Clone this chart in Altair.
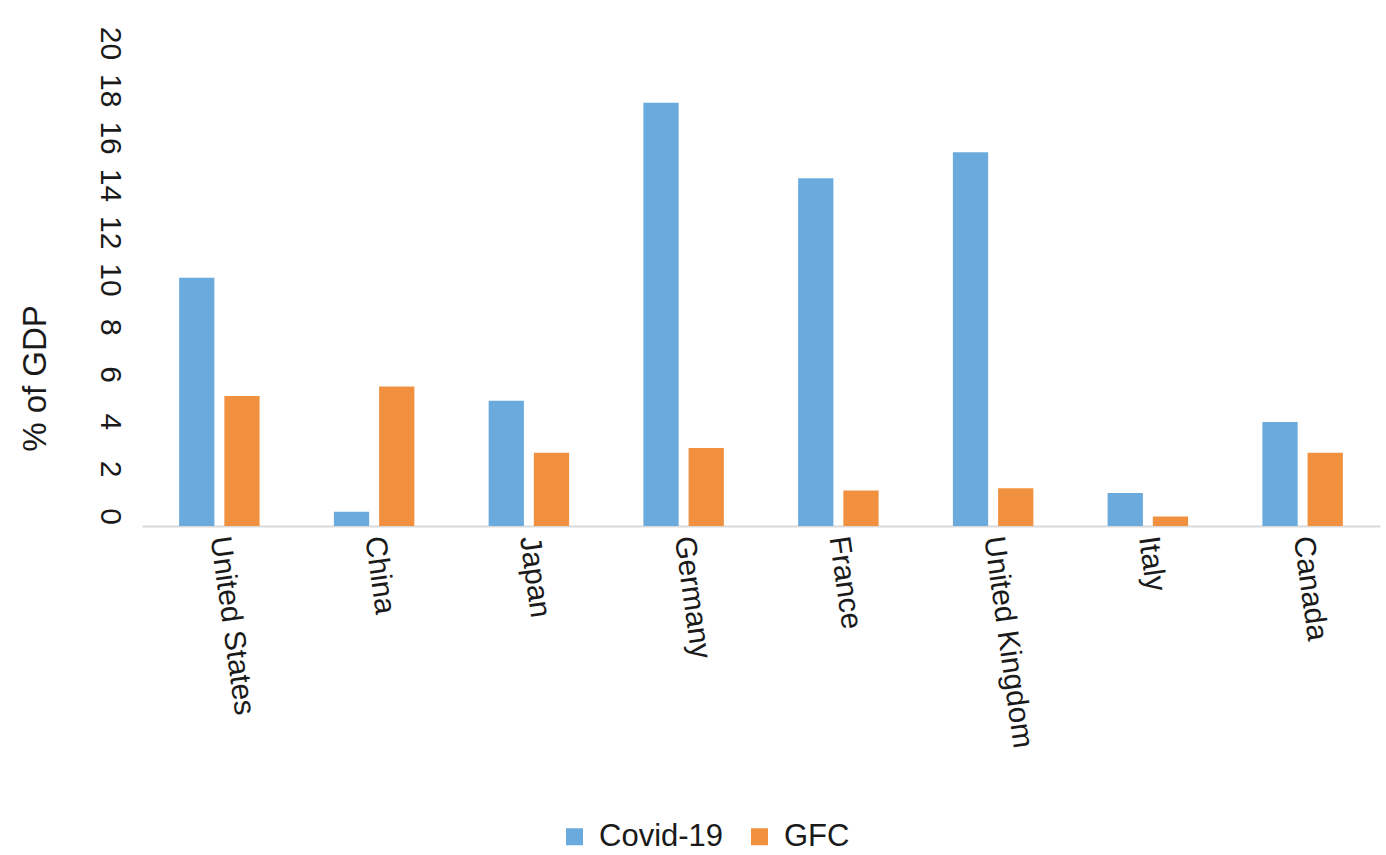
import altair as alt
import pandas as pd

countries = ["United States", "China", "Japan", "Germany", "France",
             "United Kingdom", "Italy", "Canada"]
covid = [10.5, 0.6, 5.3, 17.9, 14.7, 15.8, 1.4, 4.4]
gfc = [5.5, 5.9, 3.1, 3.3, 1.5, 1.6, 0.4, 3.1]
series = ["Covid-19", "GFC"]
colors = ["#6aaadc", "#f1913f"]
y_ticks = [0, 2, 4, 6, 8, 10, 12, 14, 16, 18, 20]

rows = []
for c, a, b in zip(countries, covid, gfc):
    rows.append({"country": c, "series": series[0], "value": a})
    rows.append({"country": c, "series": series[1], "value": b})
df = pd.DataFrame(rows)

FONT = "Liberation Sans"

chart = alt.Chart(df).mark_bar().encode(
    x=alt.X("country:N", sort=countries,
            scale=alt.Scale(paddingInner=0.48, paddingOuter=0.24),
            axis=alt.Axis(title=None, labelAngle=82, labelAlign="left",
                          labelBaseline="middle", labelPadding=10, labelLimit=0,
                          labelFontSize=30, labelFont=FONT, labelColor="#1a1a1a",
                          ticks=False, domainColor="#d9d9d9", domainWidth=2)),
    xOffset=alt.XOffset("series:N", sort=series,
                        scale=alt.Scale(paddingInner=0.22, paddingOuter=0)),
    y=alt.Y("value:Q", scale=alt.Scale(domain=[0, 20], nice=False),
            axis=alt.Axis(title="% of GDP", values=y_ticks, labelAngle=90,
                          labelAlign="center", labelBaseline="top",
                          labelPadding=18, labelOffset=-10,
                          labelFontSize=30, labelFont=FONT, labelColor="#1a1a1a",
                          ticks=False, domain=False, grid=False,
                          titleFontSize=33, titleFont=FONT, titleFontWeight="normal",
                          titleColor="#1a1a1a", titleAngle=-90,
                          titleX=-107, titleY=325, titleAlign="center",
                          titleBaseline="middle")),
    color=alt.Color("series:N", sort=series,
                    scale=alt.Scale(domain=series, range=colors),
                    legend=alt.Legend(title=None, orient="none", direction="horizontal",
                                      legendX=417, legendY=768,
                                      symbolType="square", symbolSize=289,
                                      symbolStrokeWidth=0,
                                      labelFontSize=31, labelFont=FONT,
                                      labelColor="#1a1a1a", labelOffset=9,
                                      columnPadding=20, padding=0)),
).properties(
    width=1238, height=473,
    background="white",
    autosize=alt.AutoSizeParams(type="none"),
    padding={"left": 142, "top": 53, "right": 6, "bottom": 329},
).configure_view(strokeWidth=0, stroke=None)

chart.save("out.html", embed_options={"renderer": "svg", "actions": False})
